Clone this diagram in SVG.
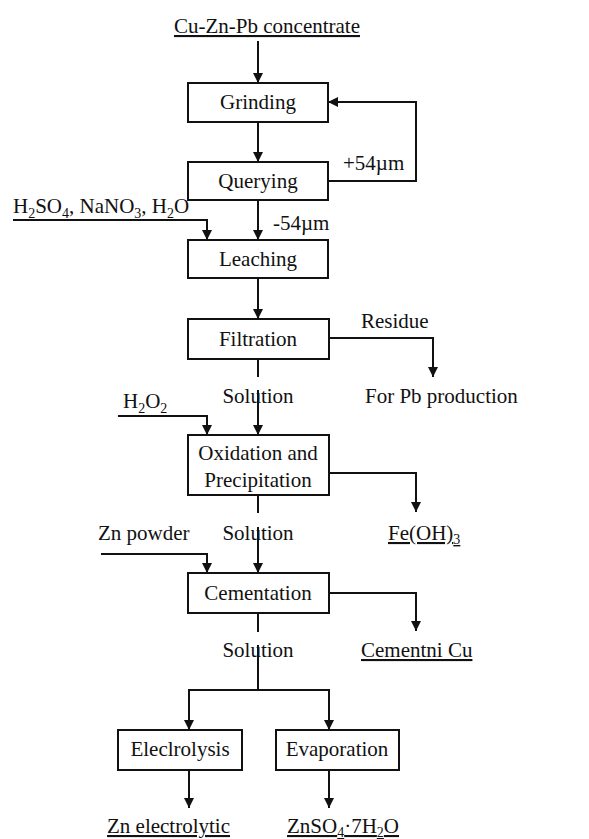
<svg xmlns="http://www.w3.org/2000/svg" width="589" height="839" viewBox="0 0 589 839">
<style>
text{font-family:"Liberation Serif","Times New Roman",serif;font-size:21px;fill:#111}
.c{text-anchor:middle}
.u{text-decoration:underline}
.box{fill:#fff;stroke:#111;stroke-width:2}
.ln{fill:none;stroke:#111;stroke-width:2}
.s{font-size:14px}
</style>
<defs>
<marker id="ah" viewBox="0 0 10 14" refX="10" refY="7" markerWidth="10" markerHeight="14" markerUnits="userSpaceOnUse" orient="auto">
<path d="M0,2 L10,7 L0,12 Z" fill="#111"/>
</marker>
</defs>
<rect width="589" height="839" fill="#fff"/>
<g id="connectors">
<path class="ln" d="M258,41 V83" marker-end="url(#ah)"/>
<path class="ln" d="M258,122 V162" marker-end="url(#ah)"/>
<path class="ln" d="M328,181 H416 V102 H328" marker-end="url(#ah)"/>
<path class="ln" d="M258,200 V240" marker-end="url(#ah)"/>
<path class="ln" d="M13,220 H207 V240" marker-end="url(#ah)"/>
<path class="ln" d="M258,278 V319" marker-end="url(#ah)"/>
<path class="ln" d="M329,338 H433 V377" marker-end="url(#ah)"/>
<path class="ln" d="M258,359 V377"/>
<path class="ln" d="M258,390 V435" marker-end="url(#ah)"/>
<path class="ln" d="M118,416 H207 V435" marker-end="url(#ah)"/>
<path class="ln" d="M329,473 H416 V512" marker-end="url(#ah)"/>
<path class="ln" d="M258,495 V513"/>
<path class="ln" d="M258,527 V573" marker-end="url(#ah)"/>
<path class="ln" d="M101,554 H207 V573" marker-end="url(#ah)"/>
<path class="ln" d="M329,593 H416 V631" marker-end="url(#ah)"/>
<path class="ln" d="M258,613 V632"/>
<path class="ln" d="M258,645 V690"/>
<path class="ln" d="M189,730 V690 H329 V730" marker-end="url(#ah)"/>
<path class="ln" d="M189,691 V730" marker-end="url(#ah)"/>
<path class="ln" d="M189,770 V808" marker-end="url(#ah)"/>
<path class="ln" d="M329,770 V808" marker-end="url(#ah)"/>
</g>
<g id="concentrate"><text class="c u" x="267" y="33">Cu-Zn-Pb concentrate</text></g>
<g id="grinding"><rect class="box" x="188" y="83" width="140" height="39"/><text class="c" x="258" y="109">Grinding</text></g>
<g id="querying"><rect class="box" x="188" y="162" width="140" height="38"/><text class="c" x="258" y="188">Querying</text></g>
<g id="plus54"><text x="343" y="170">+54µm</text></g>
<g id="minus54"><text x="273" y="230">-54µm</text></g>
<g id="reagents"><text x="13" y="213">H<tspan class="s" dy="5">2</tspan><tspan dy="-5">SO</tspan><tspan class="s" dy="5">4</tspan><tspan dy="-5">, NaNO</tspan><tspan class="s" dy="5">3</tspan><tspan dy="-5">, H</tspan><tspan class="s" dy="5">2</tspan><tspan dy="-5">O</tspan></text></g>
<g id="leaching"><rect class="box" x="188" y="240" width="140" height="38"/><text class="c" x="258" y="266">Leaching</text></g>
<g id="filtration"><rect class="box" x="188" y="319" width="141" height="40"/><text class="c" x="258" y="346">Filtration</text></g>
<g id="residue"><text x="361" y="328">Residue</text></g>
<g id="pb"><text x="365" y="403">For Pb production</text></g>
<g id="solution1"><text class="c" x="258" y="403">Solution</text></g>
<g id="h2o2"><text x="123" y="408">H<tspan class="s" dy="5">2</tspan><tspan dy="-5">O</tspan><tspan class="s" dy="5">2</tspan></text></g>
<g id="oxidation"><rect class="box" x="188" y="435" width="141" height="60"/><text class="c" x="258" y="460">Oxidation and</text><text class="c" x="258" y="487">Precipitation</text></g>
<g id="feoh"><text class="u" x="388" y="540">Fe(OH)<tspan class="s" dy="4">3</tspan></text></g>
<g id="solution2"><text class="c" x="258" y="540">Solution</text></g>
<g id="znpowder"><text x="98" y="540">Zn powder</text></g>
<g id="cementation"><rect class="box" x="188" y="573" width="141" height="40"/><text class="c" x="258" y="600">Cementation</text></g>
<g id="cementcu"><text class="u" x="361" y="657">Cementni Cu</text></g>
<g id="solution3"><text class="c" x="258" y="657">Solution</text></g>
<g id="electrolysis"><rect class="box" x="118" y="730" width="124" height="40"/><text class="c" x="180" y="756">Eleclrolysis</text></g>
<g id="evaporation"><rect class="box" x="276" y="730" width="123" height="40"/><text class="c" x="337" y="756">Evaporation</text></g>
<g id="znel"><text class="u" x="107" y="833">Zn electrolytic</text></g>
<g id="znso4"><text class="u" x="287" y="833">ZnSO<tspan class="s" dy="4">4</tspan><tspan dy="-4">·7H</tspan><tspan class="s" dy="4">2</tspan><tspan dy="-4">O</tspan></text></g>
</svg>
